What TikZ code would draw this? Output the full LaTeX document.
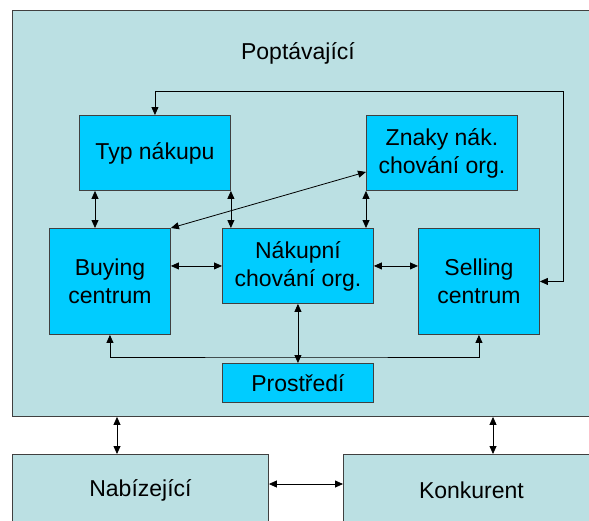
\documentclass[tikz,border=0pt]{standalone}
\usepackage{fontspec}
\setmainfont{Liberation Sans}
\usetikzlibrary{arrows.meta,calc}
\definecolor{cteal}{HTML}{BBE0E3}
\definecolor{ccyan}{HTML}{00CCFF}
\definecolor{cline}{HTML}{404040}

\begin{document}
\begin{tikzpicture}[
    x=1pt, y=-1pt,
    txt/.style={font=\fontsize{23}{28}\selectfont, align=center},
    base/.style={txt, draw=cline, line width=0.9pt, anchor=north west, inner sep=0pt},
    cbox/.style={base, fill=ccyan},
    outerbox/.style={base, fill=cteal},
    arr/.style={{Triangle[length=8pt,width=7pt]}-{Triangle[length=8pt,width=7pt]}, line width=0.8pt, black},
]
\useasboundingbox (0,0) rectangle (589,520);
\clip (0,0) rectangle (589,520);
% Poptavajici (outer box)
\node[outerbox, minimum width=600pt, minimum height=406pt] (poptavajici) at (12,10) {};
\node[txt] (poptlabel) at (298,53) {Poptávající};
% inner boxes
\node[cbox, minimum width=151pt, minimum height=75pt]  (typ)       at (79,115)  {Typ nákupu};
\node[cbox, minimum width=151pt, minimum height=75pt]  (znaky)     at (366,115) {Znaky nák.\\chování org.};
\node[cbox, minimum width=121pt, minimum height=106pt] (buying)    at (49,228)  {Buying\\centrum};
\node[cbox, minimum width=151pt, minimum height=75pt]  (nakupni)   at (222,228) {Nákupní\\chování org.};
\node[cbox, minimum width=121pt, minimum height=106pt] (selling)   at (418,228) {Selling\\centrum};
\node[cbox, minimum width=151pt, minimum height=39pt]  (prostredi) at (222,363) {Prostředí};
% outside boxes
\node[outerbox, minimum width=256pt, minimum height=72pt] (nabizejici) at (12,454)  {Nabízející};
\node[outerbox, minimum width=256pt, minimum height=72pt] (konkurent)  at (343,454) {Konkurent};
% helper points
\coordinate (tb)   at (95,0);
\coordinate (loop) at (563,91);
\coordinate (bus)  at (0,357);
\coordinate (nb)   at (117,0);
\coordinate (kb)   at (493,0);
\coordinate (nk)   at (0,484);
% connectors
\draw[arr] (typ.south -| tb) -- (buying.north -| tb);
\draw[arr] (typ.south east) -- (nakupni.north -| typ.south east);
\draw[arr] (znaky.south west) -- (nakupni.north -| znaky.south west);
\draw[arr] (buying.north east) -- ($(znaky.south west)!0.25!(znaky.north west)$);
\draw[arr] (nakupni.west -| buying.east) -- (nakupni.west);
\draw[arr] (nakupni.east) -- (nakupni.east -| selling.west);
\draw[arr] (nakupni.south) -- (prostredi.north);
\draw[arr] (buying.south) |- (bus -| nakupni.south) -| (selling.south);
\draw[arr] (typ.north) |- (loop) |- (selling.east);
\draw[arr] (poptavajici.south -| nb) -- (nabizejici.north -| nb);
\draw[arr] (poptavajici.south -| kb) -- (konkurent.north -| kb);
\draw[arr] (nabizejici.east |- nk) -- (konkurent.west |- nk);
\end{tikzpicture}
\end{document}
